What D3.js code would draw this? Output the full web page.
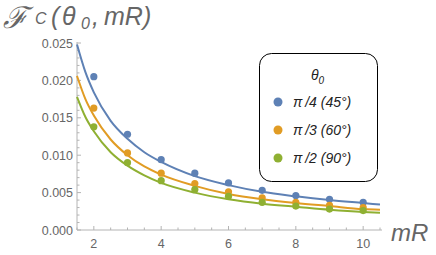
<!DOCTYPE html>
<html>
<head>
<meta charset="utf-8">
<script src="https://cdn.jsdelivr.net/npm/d3@7"></script>
<style>
  body { margin: 0; background: #fff; }
  svg { display: block; font-family: "Liberation Sans", Arial, sans-serif; }
</style>
</head>
<body>
<div id="chart"></div>
<script>

//--- Daten ------------------------------------------------------------------ //

var seriesNames = ['\u03C0\u2009/4 (45\u00B0)', '\u03C0\u2009/3 (60\u00B0)', '\u03C0\u2009/2 (90\u00B0)'];
var seriesColors = ['#5E81B5', '#E19C24', '#8FB032'];

var pointX = [2, 3, 4, 5, 6, 7, 8, 9, 10];
var pointsBlue   = [0.0205, 0.0128, 0.0094, 0.0076, 0.0063, 0.0053, 0.0046, 0.0041, 0.0037];
var pointsOrange = [0.0163, 0.0103, 0.0076, 0.0062, 0.0051, 0.0043, 0.0037, 0.0033, 0.0030];
var pointsGreen  = [0.0138, 0.0090, 0.0066, 0.0054, 0.0045, 0.0037, 0.0032, 0.0028, 0.0026];

var curveX = [1.5, 1.75, 2, 2.5, 3, 3.5, 4, 5, 6, 7, 8, 9, 10, 10.5];
var curveBlue   = [0.0248, 0.0211, 0.0184, 0.0146, 0.0122, 0.0104, 0.0091, 0.0072, 0.0060, 0.0051, 0.0045, 0.0040, 0.0036, 0.0034];
var curveOrange = [0.0206, 0.0175, 0.0153, 0.0121, 0.0100, 0.0085, 0.0074, 0.0059, 0.0048, 0.0041, 0.0036, 0.0032, 0.0028, 0.0027];
var curveGreen  = [0.0178, 0.0151, 0.0132, 0.0104, 0.0086, 0.0073, 0.0063, 0.0050, 0.0041, 0.0035, 0.0031, 0.0027, 0.0024, 0.0023];

var xTicks = [2, 4, 6, 8, 10];
var yTicks = [0, 0.005, 0.010, 0.015, 0.020, 0.025];

//--- SVG -------------------------------------------------------------------- //

var width = 436, height = 255;
var gray = '#666666';
var axisGray = '#b4b4b4';

var svg = d3.select('#chart').append('svg')
    .attr('width', width)
    .attr('height', height);

var x = d3.scaleLinear().domain([1.5, 10.5]).range([77, 380]);
var y = d3.scaleLinear().domain([0, 0.025]).range([230, 43]);

// Achsen (Ticks nach innen, wie Mathematica)
var xAxis = svg.append('g').attr('transform', 'translate(0,230)');
xAxis.append('line').attr('x1', 77).attr('x2', 382).attr('stroke', axisGray);
xAxis.selectAll('.minor').data(d3.range(1.5, 10.6, 0.5)).enter().append('line')
    .attr('x1', function(d) { return x(d); }).attr('x2', function(d) { return x(d); })
    .attr('y1', 0).attr('y2', function(d) { return d % 2 === 0 ? -4 : -2.5; })
    .attr('stroke', axisGray);
xAxis.selectAll('text').data(xTicks).enter().append('text')
    .attr('x', function(d) { return x(d); })
    .attr('y', 18)
    .attr('text-anchor', 'middle')
    .attr('font-size', 12.5)
    .attr('fill', gray)
    .text(function(d) { return d; });

var yAxis = svg.append('g').attr('transform', 'translate(77,0)');
yAxis.append('line').attr('y1', 230).attr('y2', 42).attr('stroke', axisGray);
yAxis.selectAll('.minor').data(d3.range(0, 26)).enter().append('line')
    .attr('y1', function(d) { return y(d / 1000); }).attr('y2', function(d) { return y(d / 1000); })
    .attr('x1', 0).attr('x2', function(d) { return d % 5 === 0 ? 4 : 2.5; })
    .attr('stroke', axisGray);
yAxis.selectAll('text').data(yTicks).enter().append('text')
    .attr('x', -4)
    .attr('y', function(d) { return y(d) + 4.5; })
    .attr('text-anchor', 'end')
    .attr('font-size', 12.5)
    .attr('fill', gray)
    .text(function(d) { return d3.format('.3f')(d); });

// Kurven
var curves = [curveBlue, curveOrange, curveGreen];
var points = [pointsBlue, pointsOrange, pointsGreen];

var line = d3.line()
    .x(function(d) { return x(d[0]); })
    .y(function(d) { return y(d[1]); })
    .curve(d3.curveMonotoneX);

curves.forEach(function(c, i) {
    svg.append('path')
        .datum(d3.zip(curveX, c))
        .attr('d', line)
        .attr('fill', 'none')
        .attr('stroke', seriesColors[i])
        .attr('stroke-width', 2);
});

points.forEach(function(p, i) {
    svg.append('g').selectAll('circle').data(d3.zip(pointX, p)).enter().append('circle')
        .attr('cx', function(d) { return x(d[0]); })
        .attr('cy', function(d) { return y(d[1]); })
        .attr('r', 3.6)
        .attr('fill', seriesColors[i]);
});

// Achsenbeschriftung
var title = svg.append('g')
    .attr('font-style', 'italic')
    .attr('fill', gray);
title.append('text').attr('x', 3).attr('y', 28).attr('font-size', 30).text('\u2131');
title.append('text').attr('x', 35).attr('y', 24).attr('font-size', 16).text('C');
title.append('text').attr('x', 51).attr('y', 25).attr('font-size', 25).text('(');
title.append('text').attr('x', 62).attr('y', 25).attr('font-size', 25).text('\u03B8');
title.append('text').attr('x', 81).attr('y', 29).attr('font-size', 16).text('0');
title.append('text').attr('x', 92).attr('y', 25).attr('font-size', 25).text(',');
title.append('text').attr('x', 104).attr('y', 25).attr('font-size', 25).text('mR)');

svg.append('text')
    .attr('x', 391).attr('y', 241)
    .attr('font-size', 24)
    .attr('font-style', 'italic')
    .attr('fill', gray)
    .text('mR');

// Legende
var legend = svg.append('g');
legend.append('rect')
    .attr('x', 259.5).attr('y', 53.5)
    .attr('width', 118).attr('height', 128)
    .attr('rx', 12).attr('ry', 12)
    .attr('fill', '#fff')
    .attr('stroke', '#000')
    .attr('stroke-width', 1);

var lt = legend.append('text')
    .attr('x', 311).attr('y', 80)
    .attr('font-size', 14)
    .attr('font-style', 'italic')
    .attr('fill', '#222');
lt.append('tspan').text('\u03B8');
lt.append('tspan').attr('font-size', 10).attr('dy', 4).text('0');

seriesNames.forEach(function(name, i) {
    var ry = 102 + i * 28;
    legend.append('circle')
        .attr('cx', 278).attr('cy', ry)
        .attr('r', 4.5)
        .attr('fill', seriesColors[i]);
    legend.append('text')
        .attr('x', 293).attr('y', ry + 5)
        .attr('font-size', 14)
        .attr('font-style', 'italic')
        .attr('fill', '#222')
        .text(name);
});

</script>
</body>
</html>
